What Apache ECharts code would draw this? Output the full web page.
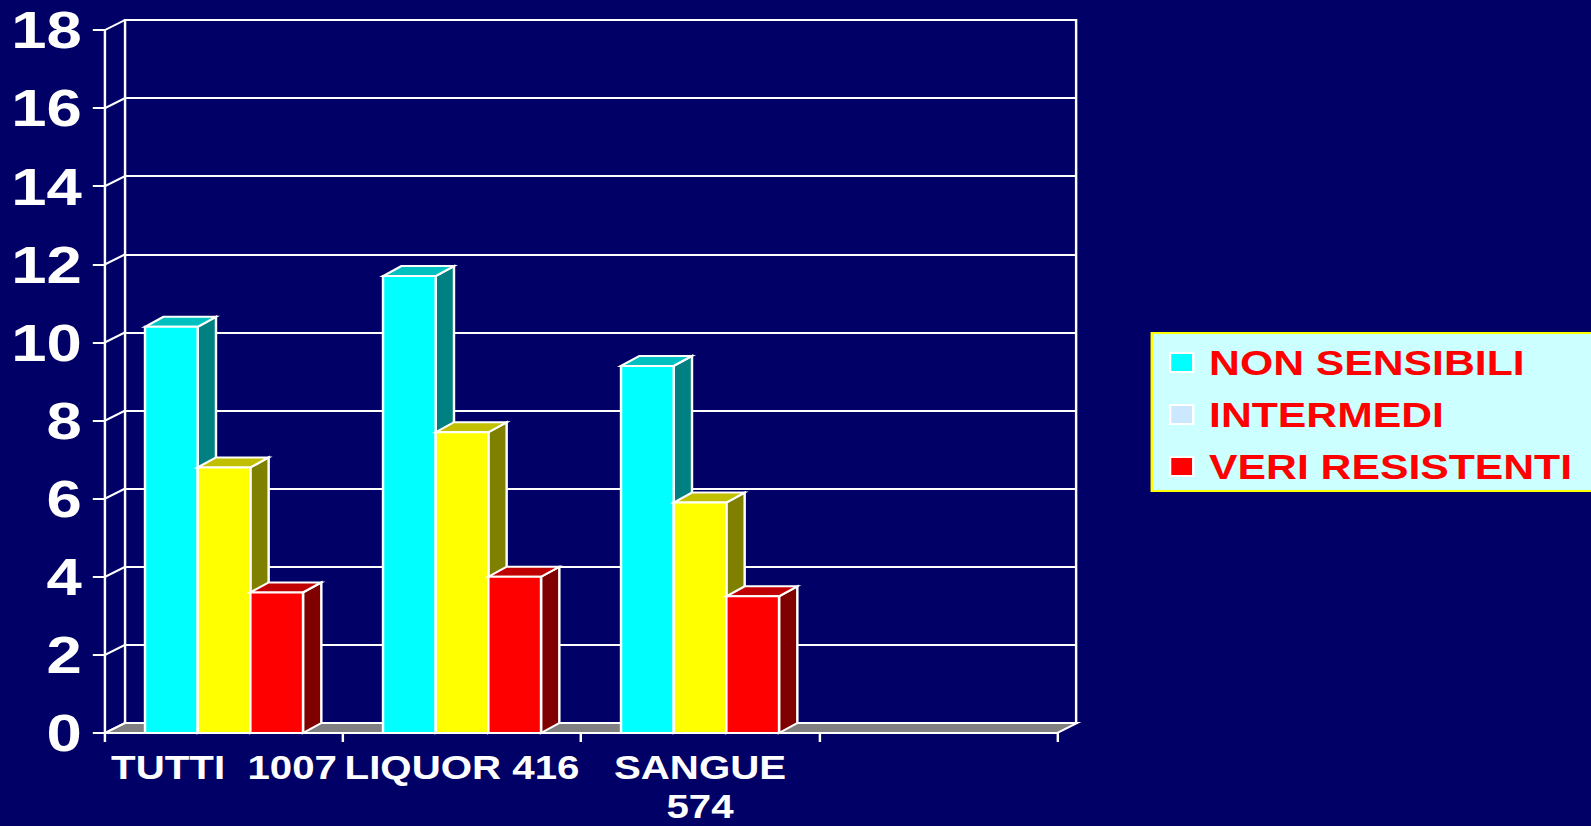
<!DOCTYPE html>
<html>
<head>
<meta charset="utf-8">
<title>Resistenze</title>
<script src="https://cdn.jsdelivr.net/npm/echarts@6/dist/echarts.min.js"></script>
<style>
  html, body { margin: 0; padding: 0; background: #000066; overflow: hidden; }
  #chart {
    width: 1304px; height: 826px;
    transform: scaleX(1.22009); transform-origin: 0 0;
  }
</style>
</head>
<body>
<div id="chart"></div>
<script>
// Categories and values (percentages)
const categories = ['TUTTI  1007', 'LIQUOR 416', 'SANGUE\n574', ''];
const nonSensibili = [10.4, 11.7, 9.4];
const intermedi = [6.8, 7.7, 5.9];
const veriResistenti = [3.6, 4.0, 3.5];
const yTicks = [0, 2, 4, 6, 8, 10, 12, 14, 16, 18];
const seriesNames = ['NON SENSIBILI', 'INTERMEDI', 'VERI RESISTENTI'];

const FONT = "'Liberation Sans', Arial, sans-serif";
const Y_MIN = yTicks[0], Y_MAX = yTicks[yTicks.length - 1], Y_STEP = yTicks[1] - yTicks[0];

// depth of the back wall and of each box
const WALL_DX = 16.4, WALL_DY = -10;
const BAR_DX = 15, BAR_DY = -10;
const BAR_FRACTION = 0.2213;

const EDGE = { stroke: '#ffffff', lineWidth: 2, lineJoin: 'miter' };

function boxSeries(name, values, faces, slot) {
  return {
    type: 'custom',
    name: name,
    xAxisIndex: 1,
    yAxisIndex: 1,
    z: 10,
    itemStyle: { color: faces.front },
    data: values.map((v, i) => [i, v]),
    renderItem: function (params, api) {
      const idx = api.value(0);
      const v = api.value(1);
      const base = api.coord([idx, 0]);
      const top = api.coord([idx, v]);
      const band = api.size([1, 0])[0];
      const w = band * BAR_FRACTION;
      const x0 = base[0] + (slot - 1.5) * w;
      const x1 = x0 + w;
      const yT = top[1], yB = base[1];
      return {
        type: 'group',
        children: [
          { type: 'polygon',
            shape: { points: [[x1, yT], [x1 + BAR_DX, yT + BAR_DY], [x1 + BAR_DX, yB + BAR_DY], [x1, yB]] },
            style: Object.assign({ fill: faces.side }, EDGE) },
          { type: 'polygon',
            shape: { points: [[x0, yT], [x0 + BAR_DX, yT + BAR_DY], [x1 + BAR_DX, yT + BAR_DY], [x1, yT]] },
            style: Object.assign({ fill: faces.top }, EDGE) },
          { type: 'rect',
            shape: { x: x0, y: yT, width: w, height: yB - yT },
            style: Object.assign({ fill: faces.front }, EDGE) }
        ]
      };
    }
  };
}

const chart = echarts.init(document.getElementById('chart'), null, { renderer: 'svg' });

chart.setOption({
  backgroundColor: '#000066',
  animation: false,
  textStyle: { fontFamily: FONT },
  grid: [
    // back wall
    { left: 102.5, top: 20, width: 779.5, height: 703, show: true, outerBoundsMode: 'none',
      borderColor: '#ffffff', borderWidth: 2, backgroundColor: 'transparent' },
    // front plane
    { left: 86.07, top: 30, width: 780.3, height: 703, outerBoundsMode: 'none' }
  ],
  xAxis: [
    { type: 'category', gridIndex: 0, data: categories, show: false },
    { type: 'category', gridIndex: 1, data: categories, boundaryGap: true,
      axisLine: { show: true, lineStyle: { color: '#ffffff', width: 2 } },
      axisTick: { show: true, length: 9, lineStyle: { color: '#ffffff', width: 2 } },
      axisLabel: { interval: 0, margin: 15, color: '#ffffff', fontSize: 33, fontWeight: 'bold',
                   lineHeight: 39, fontFamily: FONT, hideOverlap: false },
      splitLine: { show: false } }
  ],
  yAxis: [
    { type: 'value', gridIndex: 0, min: Y_MIN, max: Y_MAX, interval: Y_STEP,
      axisLine: { show: false }, axisTick: { show: false }, axisLabel: { show: false },
      splitLine: { show: true, lineStyle: { color: '#ffffff', width: 2 } } },
    { type: 'value', gridIndex: 1, min: Y_MIN, max: Y_MAX, interval: Y_STEP,
      axisLine: { show: true, lineStyle: { color: '#ffffff', width: 2 } },
      axisTick: { show: true, length: 10, lineStyle: { color: '#ffffff', width: 2 } },
      axisLabel: { margin: 19, color: '#ffffff', fontSize: 52, fontWeight: 'bold', fontFamily: FONT },
      splitLine: { show: false } }
  ],
  legend: {
    orient: 'vertical',
    left: 944, top: 333,
    padding: [12, 90, 7, 14],
    itemGap: 17,
    itemWidth: 19, itemHeight: 19,
    icon: 'rect',
    selectedMode: false,
    backgroundColor: '#CCFFFF',
    borderColor: '#FFFF00',
    borderWidth: 2,
    borderRadius: 0,
    itemStyle: { borderColor: '#ffffff', borderWidth: 2 },
    textStyle: { color: '#FF0000', fontSize: 35, fontWeight: 'bold', fontFamily: FONT,
                 lineHeight: 35, padding: [0, 0, 0, 8] },
    data: [
      { name: seriesNames[0] },
      { name: seriesNames[1], itemStyle: { color: '#CCE8FF' } },
      { name: seriesNames[2] }
    ]
  },
  series: [
    // floor of the plot box
    { type: 'custom', name: 'floor', xAxisIndex: 1, yAxisIndex: 1, z: 3, silent: true,
      data: [[0, Y_MIN]],
      renderItem: function (params, api) {
        const cs = params.coordSys;
        const yB = api.coord([0, api.value(1)])[1];
        return { type: 'polygon',
          shape: { points: [[cs.x, yB], [cs.x + cs.width, yB],
                            [cs.x + cs.width + WALL_DX, yB + WALL_DY], [cs.x + WALL_DX, yB + WALL_DY]] },
          style: Object.assign({ fill: '#808080' }, EDGE) };
      } },
    // side wall lines joining the front axis ticks to the back wall
    { type: 'custom', name: 'side', xAxisIndex: 1, yAxisIndex: 1, z: 4, silent: true,
      data: yTicks.map(v => [0, v]),
      renderItem: function (params, api) {
        const cs = params.coordSys;
        const y = api.coord([0, api.value(1)])[1];
        return { type: 'line',
          shape: { x1: cs.x, y1: y, x2: cs.x + WALL_DX, y2: y + WALL_DY },
          style: { stroke: '#ffffff', lineWidth: 2 } };
      } },
    boxSeries(seriesNames[0], nonSensibili, { front: '#00FFFF', top: '#00C0C0', side: '#008080' }, 0),
    boxSeries(seriesNames[1], intermedi, { front: '#FFFF00', top: '#C0C000', side: '#808000' }, 1),
    boxSeries(seriesNames[2], veriResistenti, { front: '#FF0000', top: '#C00000', side: '#800000' }, 2)
  ]
});
</script>
</body>
</html>
